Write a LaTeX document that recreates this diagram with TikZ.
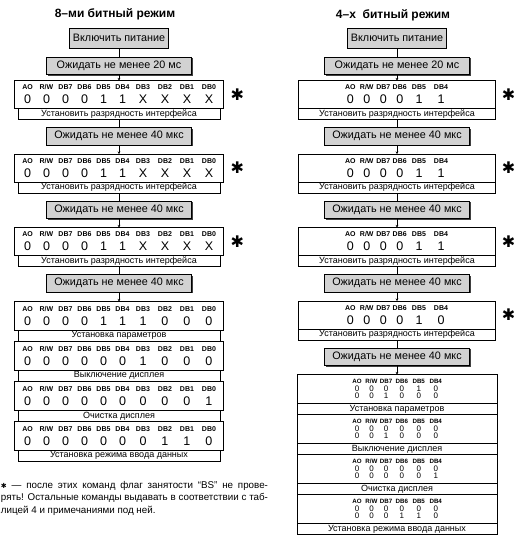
\documentclass[tikz,border=0pt]{standalone}
\usepackage{fontspec}
\setmainfont{Liberation Sans}
\newfontfamily\symfont{DejaVu Sans}
\usetikzlibrary{arrows.meta,positioning,shadows}
\definecolor{boxgray}{HTML}{D2D2D2}

\newcommand{\hdfont}{\bfseries\fontsize{7}{7}\selectfont}
\newcommand{\hdsfont}{\bfseries\fontsize{6.2}{7}\selectfont}
\newcommand{\digfont}{\fontsize{12.5}{14}\selectfont}
\newcommand{\smfont}{\fontsize{8}{7.6}\selectfont}
% one row of bit cells: width, list
\newcommand{\cw}[2]{\foreach \t in {#2}{\makebox[#1]{\t}}}
\newcommand{\rowL}[2]{\cw{19pt}{#1}\cw{22pt}{#2}}
\newcommand{\rowR}[2]{\cw{16.5pt}{#1}\cw{22pt}{#2}\hspace{13pt}}
\newcommand{\rowS}[2]{\cw{14.5pt}{#1}\cw{17pt}{#2}\hspace{24.5pt}}
\newcommand{\hdL}{{\hdfont\rowL{AO,R/W,DB7,DB6,DB5,DB4}{DB3,DB2,DB1,DB0}}}
\newcommand{\hdR}{{\hdfont\rowR{AO,R/W,DB7,DB6}{DB5,DB4}}}
\newcommand{\hdS}{{\hdsfont\rowS{AO,R/W,DB7}{DB6,DB5,DB4}}}

\begin{document}
\begin{tikzpicture}[
  x=1pt,y=-1pt,line width=0.8pt,
  every node/.style={outer sep=0pt},
  title/.style={font=\bfseries\fontsize{12}{14}\selectfont},
  act/.style={draw,fill=boxgray,font=\fontsize{10.8}{12}\selectfont,
    drop shadow={shadow xshift=1pt,shadow yshift=-1pt,fill=black!75,opacity=1}},
  power/.style={act,minimum width=97pt,minimum height=20pt},
  wait/.style={act,minimum width=145pt,minimum height=17.5pt},
  bitsL/.style={draw,fill=white,minimum width=202pt,minimum height=28pt,align=center,font=\digfont},
  bitsR/.style={bitsL,minimum width=197pt},
  bitsS/.style={draw,fill=white,minimum width=200pt,minimum height=29pt,inner sep=1pt,align=center,font=\smfont},
  capL/.style={draw,fill=white,minimum width=202pt,minimum height=11pt,inner sep=0pt,font=\fontsize{9}{9}\selectfont},
  capR/.style={capL,minimum width=197pt},
  capS/.style={capL,minimum width=200pt},
  star/.style={font=\symfont\bfseries\fontsize{16}{16}\selectfont},
  link/.style={-{Stealth[length=2.5pt,width=2.5pt]}},
  note/.style={align=left,inner sep=0pt,font=\fontsize{9.8}{12.5}\selectfont}
]
\useasboundingbox (0,0) rectangle (514,544);

% 8-bit mode
\node[title] (t8) at (115,14) {8–ми битный режим};
\node[power] (p8) at (119,38) {Включить питание};
\node[wait,below=9pt of p8] (w8a) {Ожидать не менее 20 мс};
\node[bitsL,below=6pt of w8a] (a8a) {\hdL\\\rowL{0,0,0,0,1,1}{X,X,X,X}};
\node[capL,below=0pt of a8a] (c8a) {Установить разрядность интерфейса};
\node[wait,below=8pt of c8a] (w8b) {Ожидать не менее 40 мкс};
\node[bitsL,below=9pt of w8b] (a8b) {\hdL\\\rowL{0,0,0,0,1,1}{X,X,X,X}};
\node[capL,below=0pt of a8b] (c8b) {Установить разрядность интерфейса};
\node[wait,below=8pt of c8b] (w8c) {Ожидать не менее 40 мкс};
\node[bitsL,below=9pt of w8c] (a8c) {\hdL\\\rowL{0,0,0,0,1,1}{X,X,X,X}};
\node[capL,below=0pt of a8c] (c8c) {Установить разрядность интерфейса};
\node[wait,below=8pt of c8c] (w8d) {Ожидать не менее 40 мкс};
\node[bitsL,below=9.5pt of w8d,minimum height=28.5pt] (s8a) {\hdL\\\rowL{0,0,0,0,1,1}{1,0,0,0}};
\node[capL,below=0pt of s8a,minimum height=11.5pt] (k8a) {Установка параметров};
\node[bitsL,below=0pt of k8a,minimum height=28.5pt] (s8b) {\hdL\\\rowL{0,0,0,0,0,0}{1,0,0,0}};
\node[capL,below=0pt of s8b,minimum height=11.5pt] (k8b) {Выключение дисплея};
\node[bitsL,below=0pt of k8b,minimum height=28.5pt] (s8c) {\hdL\\\rowL{0,0,0,0,0,0}{0,0,0,1}};
\node[capL,below=0pt of s8c,minimum height=11.5pt] (k8c) {Очистка дисплея};
\node[bitsL,below=0pt of k8c,minimum height=28.5pt] (s8d) {\hdL\\\rowL{0,0,0,0,0,0}{0,1,1,0}};
\node[capL,below=0pt of s8d,minimum height=11.5pt] (k8d) {Установка режима ввода данных};

\foreach \b in {a8a,a8b,a8c}
  \node[star,right=4pt of \b] (\b-star) {✱};

\draw (p8) -- (w8a);
\draw[link] (w8a) -- (a8a);
\draw (c8a) -- (w8b);
\draw[link] (w8b) -- (a8b);
\draw (c8b) -- (w8c);
\draw[link] (w8c) -- (a8c);
\draw (c8c) -- (w8d);
\draw[link] (w8d) -- (s8a);

% 4-bit mode
\node[title] (t4) at (393,15) {4–х\ \ битный режим};
\node[power] (p4) at (397,38) {Включить питание};
\node[wait,below=9pt of p4] (w4a) {Ожидать не менее 20 мс};
\node[bitsR,below=6pt of w4a] (a4a) {\hdR\\\rowR{0,0,0,0}{1,1}};
\node[capR,below=0pt of a4a] (c4a) {Установить разрядность интерфейса};
\node[wait,below=8pt of c4a] (w4b) {Ожидать не менее 40 мкс};
\node[bitsR,below=9pt of w4b] (a4b) {\hdR\\\rowR{0,0,0,0}{1,1}};
\node[capR,below=0pt of a4b] (c4b) {Установить разрядность интерфейса};
\node[wait,below=8pt of c4b] (w4c) {Ожидать не менее 40 мкс};
\node[bitsR,below=9pt of w4c] (a4c) {\hdR\\\rowR{0,0,0,0}{1,1}};
\node[capR,below=0pt of a4c] (c4c) {Установить разрядность интерфейса};
\node[wait,below=8pt of c4c] (w4d) {Ожидать не менее 40 мкс};
\node[bitsR,below=9pt of w4d] (a4d) {\hdR\\\rowR{0,0,0,0}{1,0}};
\node[capR,below=0pt of a4d] (c4d) {Установить разрядность интерфейса};
\node[wait,below=8pt of c4d] (w4e) {Ожидать не менее 40 мкс};
\node[bitsS,below=9pt of w4e] (s4a) {\hdS\\\rowS{0,0,0}{0,1,0}\\\rowS{0,0,1}{0,0,0}};
\node[capS,below=0pt of s4a] (k4a) {Установка параметров};
\node[bitsS,below=0pt of k4a] (s4b) {\hdS\\\rowS{0,0,0}{0,0,0}\\\rowS{0,0,1}{0,0,0}};
\node[capS,below=0pt of s4b] (k4b) {Выключение дисплея};
\node[bitsS,below=0pt of k4b] (s4c) {\hdS\\\rowS{0,0,0}{0,0,0}\\\rowS{0,0,0}{0,0,1}};
\node[capS,below=0pt of s4c] (k4c) {Очистка дисплея};
\node[bitsS,below=0pt of k4c] (s4d) {\hdS\\\rowS{0,0,0}{0,0,0}\\\rowS{0,0,0}{1,1,0}};
\node[capS,below=0pt of s4d] (k4d) {Установка режима ввода данных};

\foreach \b in {a4a,a4b,a4c,a4d}
  \node[star,right=3pt of \b] (\b-star) {✱};

\draw (p4) -- (w4a);
\draw[link] (w4a) -- (a4a);
\draw (c4a) -- (w4b);
\draw[link] (w4b) -- (a4b);
\draw (c4b) -- (w4c);
\draw[link] (w4c) -- (a4c);
\draw (c4c) -- (w4d);
\draw[link] (w4d) -- (a4d);
\draw (c4d) -- (w4e);
\draw[link] (w4e) -- (s4a);

% footnote
\node[note,anchor=north west] (fn) at (1,481)
  {\makebox[267pt][s]{{\symfont\fontsize{7}{7}\selectfont ✱} — после этих команд флаг занятости “BS” не прове-}\\
   \makebox[267pt][s]{рять! Остальные команды выдавать в соответствии с таб-}\\
   лицей 4 и примечаниями под ней.};
\end{tikzpicture}
\end{document}
